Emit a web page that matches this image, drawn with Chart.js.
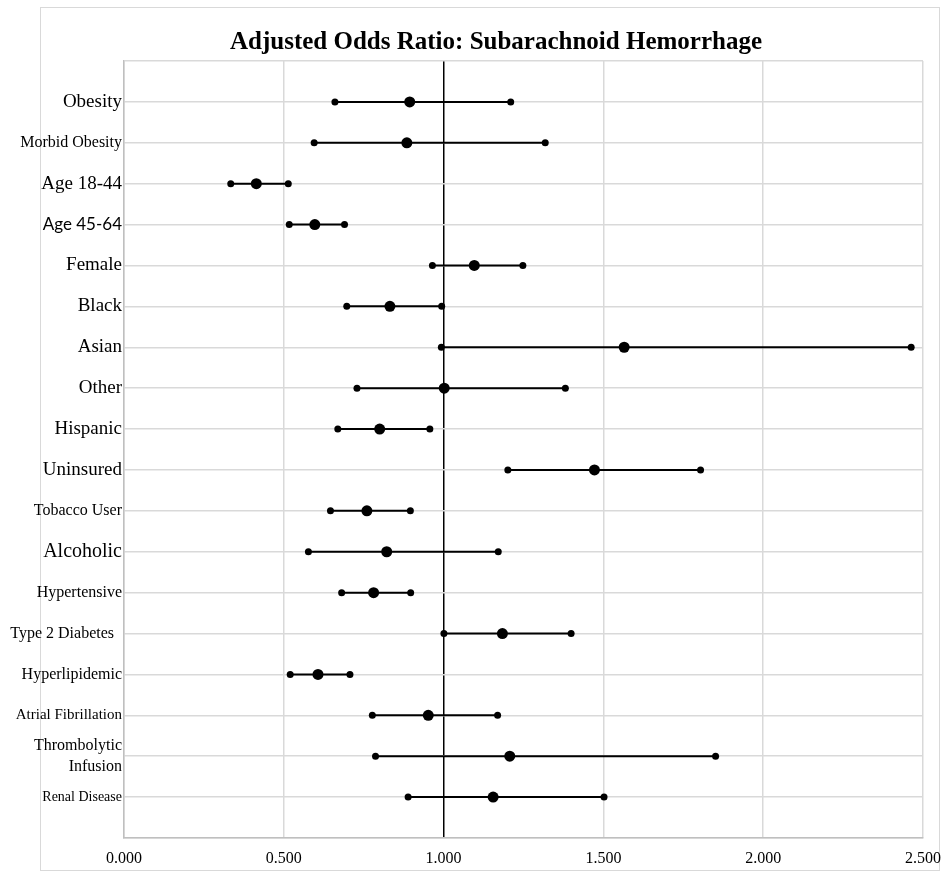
<!DOCTYPE html>
<html>
<head>
<meta charset="utf-8">
<script src="https://cdn.jsdelivr.net/npm/chart.js@4/dist/chart.umd.min.js"></script>
<style>
  html, body { margin: 0; padding: 0; background: #fff; }
  #wrap { position: relative; width: 944px; height: 873px; }
</style>
</head>
<body>
<div id="wrap"><canvas id="orChart"></canvas></div>
<script>
// rows, top to bottom
const rowLabels = [
  'Obesity', 'Morbid Obesity', 'Age 18-44', 'Age 45-64', 'Female', 'Black',
  'Asian', 'Other', 'Hispanic', 'Uninsured', 'Tobacco User', 'Alcoholic',
  'Hypertensive', 'Type 2 Diabetes  ', 'Hyperlipidemic', 'Atrial Fibrillation',
  ['Thrombolytic', 'Infusion'], 'Renal Disease'
];
const oddsRatio = [0.894, 0.885, 0.414, 0.597, 1.096, 0.832, 1.565, 1.002, 0.800,
  1.472, 0.760, 0.822, 0.781, 1.184, 0.607, 0.952, 1.207, 1.155];
const ciLow = [0.660, 0.595, 0.334, 0.517, 0.965, 0.697, 0.993, 0.729, 0.669,
  1.201, 0.646, 0.577, 0.681, 1.001, 0.520, 0.777, 0.787, 0.889];
const ciHigh = [1.210, 1.318, 0.514, 0.690, 1.248, 0.994, 2.463, 1.381, 0.957,
  1.804, 0.896, 1.171, 0.897, 1.399, 0.707, 1.169, 1.851, 1.502];
const xTicks = [0, 0.5, 1, 1.5, 2, 2.5];

const serif = "'Liberation Serif', 'Times New Roman', serif";
const sans = "Lato, 'Open Sans', sans-serif";

// the source chart mixes label sizes/faces, keep that look
const labelFonts = [
  { family: serif, size: 19 }, { family: serif, size: 16 }, { family: serif, size: 19 },
  { family: sans, size: 17 }, { family: serif, size: 19 }, { family: serif, size: 19 },
  { family: serif, size: 19 }, { family: serif, size: 19 }, { family: serif, size: 19 },
  { family: serif, size: 19 }, { family: serif, size: 16 }, { family: serif, size: 20 },
  { family: serif, size: 16 }, { family: serif, size: 16 }, { family: serif, size: 16 },
  { family: serif, size: 15 }, { family: serif, size: 16, lineHeight: 1.3 }, { family: serif, size: 14 }
];

//error bars: low->high per row, null point breaks the line between rows
const ciPoints = rowLabels.flatMap((_, i) => [
  { x: ciLow[i], y: i + 1 },
  { x: ciHigh[i], y: i + 1 },
  { x: null, y: null }
]);
const estPoints = rowLabels.map((_, i) => ({ x: oddsRatio[i], y: i + 1 }));

const framePlugin = {
  id: 'frame',
  afterLayout(chart) {
    // title sits centred over the outer frame, not the whole canvas
    const t = chart.titleBlock;
    if (t) { t.left = 48; t.right = 944; t.width = 896; }
  },
  beforeDraw(chart) {
    const ctx = chart.ctx;
    ctx.save();
    ctx.fillStyle = '#fff';
    ctx.fillRect(0, 0, chart.width, chart.height);
    ctx.strokeStyle = '#d9d9d9';
    ctx.lineWidth = 1;
    ctx.strokeRect(40.5, 7.5, 899, 863);
    ctx.restore();
  }
};

new Chart(document.getElementById('orChart'), {
  type: 'scatter',
  data: {
    datasets: [
      {
        data: estPoints,
        pointRadius: 5.5,
        pointBackgroundColor: '#000',
        pointBorderWidth: 0,
        showLine: false
      },
      {
        data: ciPoints,
        showLine: true,
        spanGaps: false,
        borderColor: '#000',
        borderWidth: 2,
        pointRadius: 3.5,
        pointBackgroundColor: '#000',
        pointBorderWidth: 0
      }
    ]
  },
  options: {
    responsive: true,
    maintainAspectRatio: false,
    animation: false,
    layout: { padding: { left: 0, right: 21, top: 0, bottom: 5 } },
    plugins: {
      legend: { display: false },
      tooltip: { enabled: false },
      title: {
        display: true,
        text: 'Adjusted Odds Ratio: Subarachnoid Hemorrhage',
        color: '#000',
        font: { family: serif, size: 25, weight: 'bold' },
        padding: { top: 28, bottom: 3 }
      }
    },
    scales: {
      x: {
        type: 'linear',
        min: 0,
        max: 2.5,
        afterBuildTicks: (scale) => {
          scale.ticks = xTicks.map(v => ({ value: v }));
        },
        afterFit: (scale) => {
          scale.paddingLeft = 0;
          scale.paddingRight = 0;
          scale.height = 30;
        },
        ticks: {
          color: '#000',
          font: { family: serif, size: 16 },
          padding: 11,
          callback: (v) => Number(v).toFixed(3)
        },
        grid: {
          drawTicks: false,
          lineWidth: 1.5,
          color: (ctx) => ctx.tick && ctx.tick.value === 1 ? '#000' : '#d9d9d9'
        },
        border: { color: '#bfbfbf', width: 1.5 }
      },
      y: {
        type: 'linear',
        reverse: true,
        min: 0,
        max: rowLabels.length + 1,
        afterBuildTicks: (scale) => {
          scale.ticks = [];
          for (let i = 0; i <= rowLabels.length + 1; i++) scale.ticks.push({ value: i });
        },
        afterFit: (scale) => {
          scale.width = 124;
          scale.paddingTop = 0;
          scale.paddingBottom = 0;
        },
        ticks: {
          autoSkip: false,
          color: '#000',
          padding: 2,
          font: (ctx) => {
            const v = ctx.tick ? ctx.tick.value : 0;
            return labelFonts[v - 1] || { family: serif, size: 16 };
          },
          callback: (v) => rowLabels[v - 1] || ''
        },
        grid: {
          drawTicks: false,
          lineWidth: 1.5,
          color: '#d9d9d9'
        },
        border: { color: '#bfbfbf', width: 1.5 }
      }
    }
  },
  plugins: [framePlugin]
});
</script>
</body>
</html>
